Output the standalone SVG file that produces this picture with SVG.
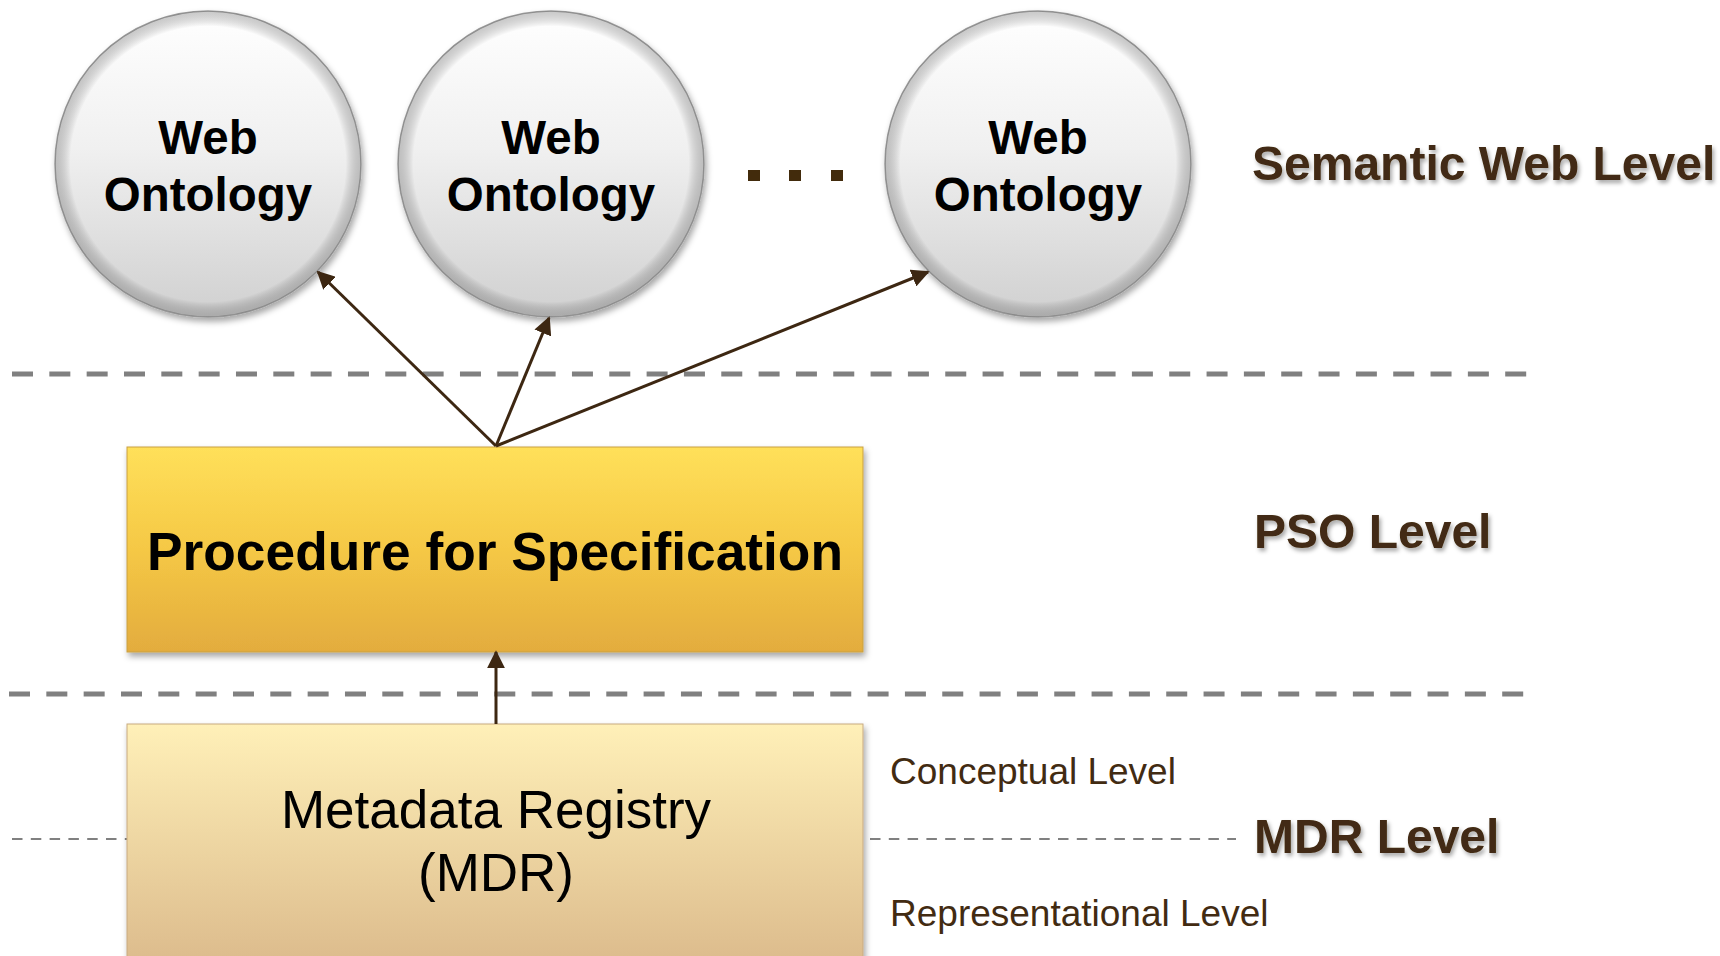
<svg xmlns="http://www.w3.org/2000/svg" width="1720" height="956" viewBox="0 0 1720 956">
<defs>
  <linearGradient id="gCircle" x1="0" y1="0" x2="0" y2="1">
    <stop offset="0" stop-color="#ffffff"/>
    <stop offset="0.45" stop-color="#f0f0f0"/>
    <stop offset="1" stop-color="#d0d0d0"/>
  </linearGradient>
  <radialGradient id="gRim" cx="0.5" cy="0.5" r="0.5">
    <stop offset="0.9" stop-color="#000" stop-opacity="0"/>
    <stop offset="1" stop-color="#666" stop-opacity="0.35"/>
  </radialGradient>
  <linearGradient id="gPso" x1="0" y1="0" x2="0" y2="1">
    <stop offset="0" stop-color="#ffe05a"/>
    <stop offset="0.5" stop-color="#f5c845"/>
    <stop offset="1" stop-color="#e3ac3e"/>
  </linearGradient>
  <linearGradient id="gMdr" x1="0" y1="0" x2="0" y2="1">
    <stop offset="0" stop-color="#fff0b8"/>
    <stop offset="1" stop-color="#dcbb8c"/>
  </linearGradient>
  <filter id="shadow" x="-10%" y="-10%" width="125%" height="125%">
    <feDropShadow dx="2" dy="4" stdDeviation="3" flood-color="#000" flood-opacity="0.35"/>
  </filter>
  <filter id="tshadow" x="-5%" y="-20%" width="115%" height="150%">
    <feDropShadow dx="2" dy="3" stdDeviation="2" flood-color="#000" flood-opacity="0.35"/>
  </filter>
  <marker id="arrow" viewBox="0 0 10 10" refX="9" refY="5" markerWidth="6" markerHeight="6" markerUnits="strokeWidth" orient="auto">
    <path d="M0,0 L10,5 L0,10 z" fill="#3d2712"/>
  </marker>
  <style>
    .circ { fill: url(#gCircle); stroke: #9a9a9a; stroke-width: 1.5; filter: url(#shadow); }
    .rim { fill: url(#gRim); }
    .ctext { font-family: "Liberation Sans", Arial, sans-serif; font-weight: bold; font-size: 47.5px; fill: #000; text-anchor: middle; }
    .lvl { font-family: "Liberation Sans", Arial, sans-serif; font-weight: bold; font-size: 48px; fill: #422b12; filter: url(#tshadow); }
    .sub { font-family: "Liberation Sans", Arial, sans-serif; font-size: 37px; fill: #422b12; }
    .thick { stroke: #808080; stroke-width: 5; stroke-dasharray: 21 16.33; fill: none; }
    .thin { stroke: #808080; stroke-width: 2; stroke-dasharray: 10.5 8.3; fill: none; }
    .conn { stroke: #3d2712; stroke-width: 3; fill: none; marker-end: url(#arrow); }
  </style>
</defs>
<rect width="1720" height="956" fill="#ffffff"/>

<g id="separators">
  <line class="thick" x1="12" y1="374" x2="1528" y2="374"/>
  <line class="thick" x1="9" y1="694" x2="1526" y2="694"/>
  <line class="thin" x1="12" y1="839" x2="128" y2="839"/>
  <line class="thin" x1="870" y1="839" x2="1236" y2="839"/>
</g>

<g id="onto1">
  <circle class="circ" cx="208" cy="164" r="153"/>
  <circle class="rim" cx="208" cy="164" r="153"/>
  <text class="ctext" x="208" y="154">Web</text>
  <text class="ctext" x="208" y="211">Ontology</text>
</g>
<g id="onto2">
  <circle class="circ" cx="551" cy="164" r="153"/>
  <circle class="rim" cx="551" cy="164" r="153"/>
  <text class="ctext" x="551" y="154">Web</text>
  <text class="ctext" x="551" y="211">Ontology</text>
</g>
<g id="onto3">
  <circle class="circ" cx="1038" cy="164" r="153"/>
  <circle class="rim" cx="1038" cy="164" r="153"/>
  <text class="ctext" x="1038" y="154">Web</text>
  <text class="ctext" x="1038" y="211">Ontology</text>
</g>
<g id="ellipsis" fill="#422b0c">
  <rect x="748" y="170" width="12" height="11"/>
  <rect x="789" y="170" width="12" height="11"/>
  <rect x="831" y="170" width="12" height="11"/>
</g>

<g id="pso">
  <rect x="127" y="447" width="736" height="205" fill="url(#gPso)" stroke="#c9a040" stroke-width="1" filter="url(#shadow)"/>
  <text x="495" y="570" font-family="Liberation Sans, Arial, sans-serif" font-weight="bold" font-size="53.3" text-anchor="middle" fill="#000">Procedure for Specification</text>
</g>

<g id="mdr">
  <rect x="127" y="724" width="736" height="240" fill="url(#gMdr)" stroke="#c8aa80" stroke-width="1" filter="url(#shadow)"/>
  <text x="496" y="828" font-family="Liberation Sans, Arial, sans-serif" font-size="53" text-anchor="middle" fill="#000">Metadata Registry</text>
  <text x="496" y="891" font-family="Liberation Sans, Arial, sans-serif" font-size="53" text-anchor="middle" fill="#000">(MDR)</text>
</g>

<g id="labels">
  <text class="lvl" x="1252" y="180">Semantic Web Level</text>
  <text class="lvl" x="1254" y="548">PSO Level</text>
  <text class="lvl" x="1254" y="853">MDR Level</text>
  <text class="sub" x="890" y="784">Conceptual Level</text>
  <text class="sub" x="890" y="926">Representational Level</text>
</g>

<g id="connectors">
  <line class="conn" x1="496" y1="446" x2="318" y2="272"/>
  <line class="conn" x1="496" y1="446" x2="549" y2="318"/>
  <line class="conn" x1="496" y1="446" x2="928" y2="272"/>
  <line class="conn" x1="496" y1="724" x2="496" y2="652"/>
</g>
</svg>
